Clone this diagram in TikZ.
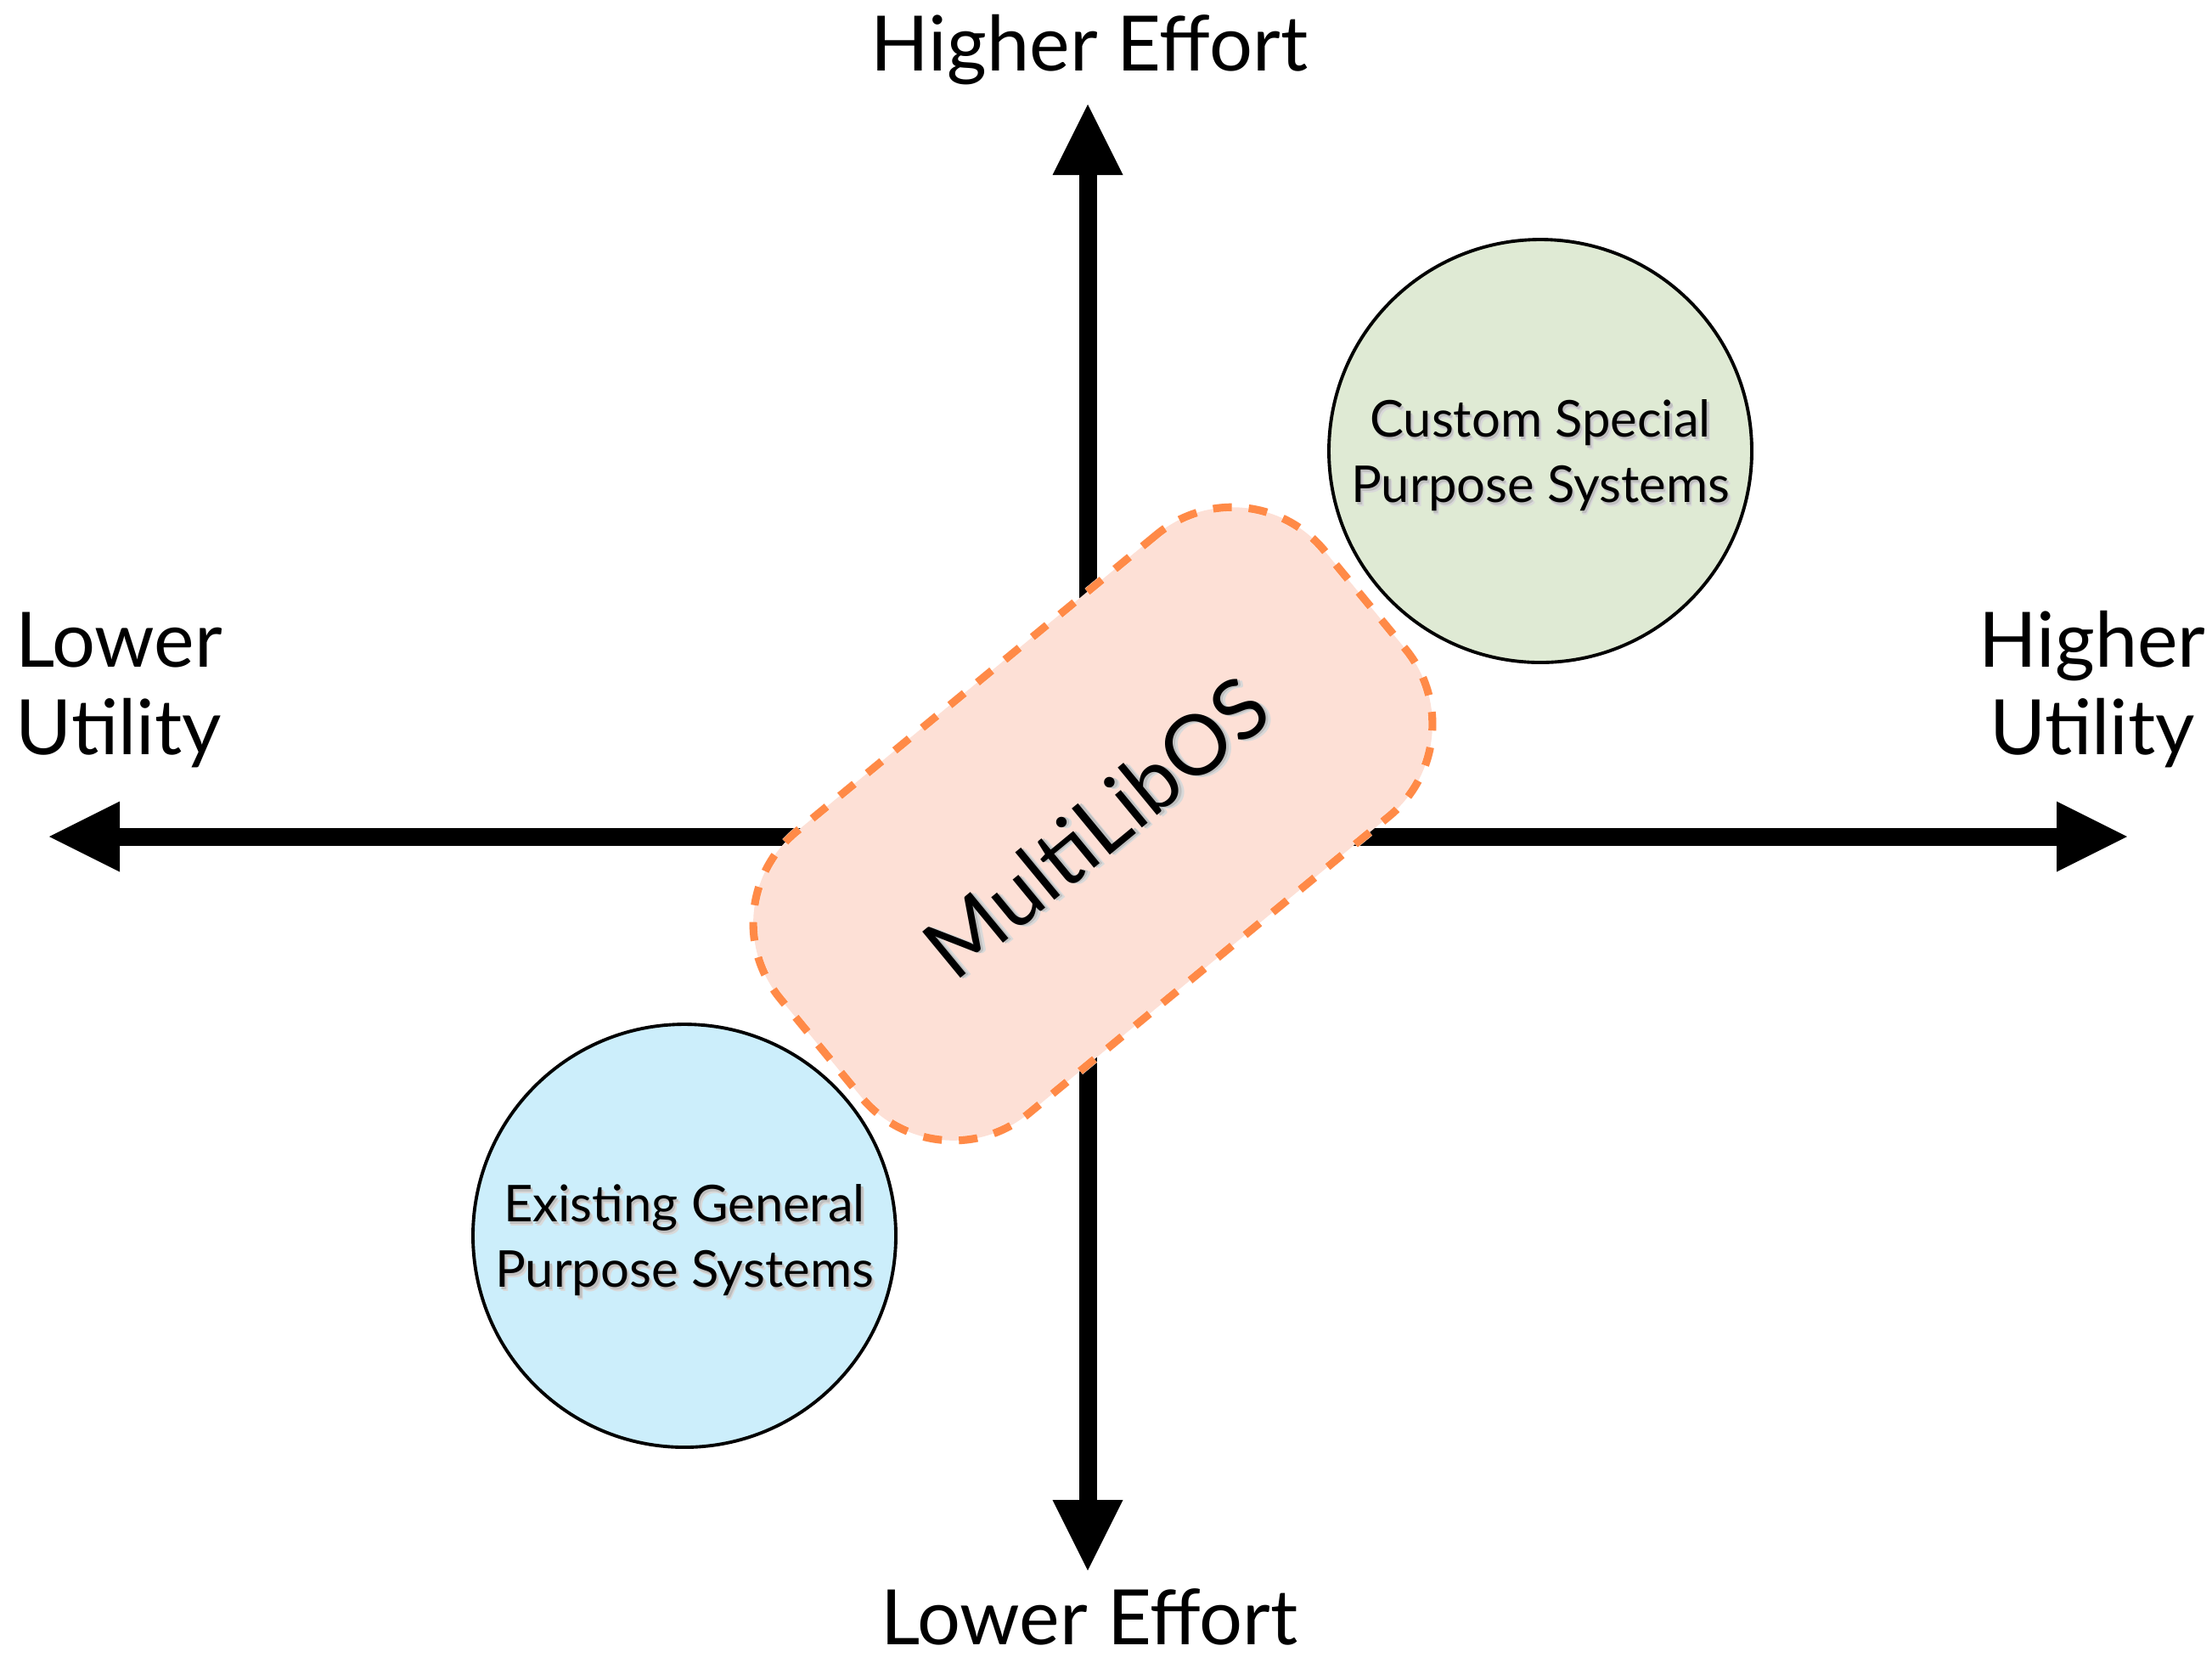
\documentclass[tikz,border=0pt]{standalone}
\usepackage{fontspec}
\setmainfont{Lato}
\usepackage{tikz}
\usetikzlibrary{arrows.meta,positioning}

\definecolor{gpblue}{HTML}{CCEEFB}
\definecolor{spgreen}{HTML}{DFEAD4}
\definecolor{mlfill}{HTML}{FDE0D6}
\definecolor{mlline}{HTML}{FF8A47}

% soft shadow under the text in the shapes
\newcommand{\shtext}[1]{\leavevmode\raisebox{-2.2pt}[\height][\depth]{%
  \rlap{\hspace{1.1pt}\raisebox{-1.4pt}{\textcolor{black!15}{#1}}}%
  \rlap{\hspace{0.6pt}\raisebox{-0.8pt}{\textcolor{black!25}{#1}}}#1}}

\begin{document}
\begin{tikzpicture}[
    axis/.style={line width=0.21cm,
      {Triangle[length=0.83cm,width=0.83cm,line width=0pt]}-{Triangle[length=0.83cm,width=0.83cm,line width=0pt]}},
    axislabel/.style={font=\fontsize{25.6}{29.3}\selectfont, align=center, inner sep=0pt},
    sys/.style={circle, draw, line width=1.1pt, minimum size=4.98cm, inner sep=0pt,
      align=center, font=\fontsize{17}{21.8}\selectfont},
    mlos/.style={rectangle, rounded corners=1.4cm, minimum width=8.3cm, minimum height=4.3cm,
      rotate=39.5, preaction={fill=mlfill, draw=mlfill!45, line width=2.8pt},
      draw=mlline, line width=2.6pt, dash pattern=on 0.22cm off 0.2cm,
      font=\fontsize{28}{33}\selectfont}]
    \useasboundingbox (0,0) rectangle (26.05,-19.5);

    \coordinate (origin) at (12.81,-9.85);
    \coordinate (west)   at (0.58,-9.85);
    \coordinate (east)   at (25.05,-9.85);
    \coordinate (north)  at (12.81,-1.23);
    \coordinate (south)  at (12.81,-18.49);

    \draw[axis] (west) -- (east);
    \draw[axis] (south) -- (north);

    \node[axislabel, anchor=base] (hieffort) at (12.83,-0.83) {Higher Effort};
    \node[axislabel, anchor=base] (loeffort) at (12.83,-19.36) {Lower Effort};
    \node[axislabel] (loutil) at (1.40,-8.12) {Lower\\Utility};
    \node[axislabel] (hiutil) at (24.64,-8.12) {Higher\\Utility};

    \node[sys, fill=spgreen] (special) at (18.14,-5.31)
      {\shtext{Custom Special}\\\shtext{Purpose Systems}};
    \node[sys, fill=gpblue] (general) at (8.06,-14.55)
      {\shtext{Existing General}\\\shtext{Purpose Systems}};

    \node[mlos] (multilib) at (12.87,-9.70) {\shtext{MultiLibOS}};
\end{tikzpicture}
\end{document}
